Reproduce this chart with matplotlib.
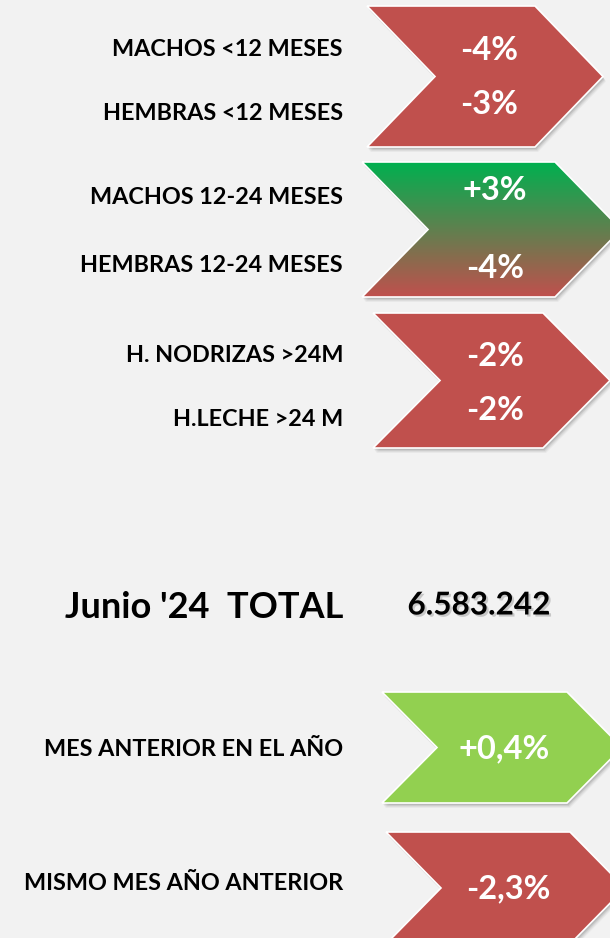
import numpy as np
import matplotlib
matplotlib.use('Agg')
import matplotlib.pyplot as plt
from matplotlib.patches import Polygon
import matplotlib.patheffects as pe

# category labels and their changes
labels = ['MACHOS <12 MESES', 'HEMBRAS <12 MESES',
          'MACHOS 12-24 MESES', 'HEMBRAS 12-24 MESES',
          'H. NODRIZAS >24M', 'H.LECHE >24 M']
changes = ['-4%', '-3%', '+3%', '-4%', '-2%', '-2%']

total_label = "Junio '24  TOTAL"
total_value = '6.583.242'

compare_labels = ['MES ANTERIOR EN EL AÑO', 'MISMO MES AÑO ANTERIOR']
compare_changes = ['+0,4%', '-2,3%']

RED = '#C0504D'
GREEN = '#00B050'
LIGHT_GREEN = '#92D050'
BG = '#F2F2F2'

# layout (pixel coords, y down)
label_x = 343
label_y = [50, 114, 198, 265, 355, 420]
value_xy = [(489, 50), (489, 104), (495, 191), (495, 268), (495, 356), (495, 410)]
# chevrons: left, top, bottom, notch/tip depth, body width (left edge to top-right corner)
chevrons = [
    (367, 6, 147, 68, 168, (RED, RED)),
    (362, 162, 297, 66, 193, (GREEN, RED)),
    (373, 313, 448, 67, 170, (RED, RED)),
]
compare_y = [750, 883]
compare_value_xy = [(504, 749), (508, 889)]
compare_chevrons = [
    (382, 692, 803, 55, 185, (LIGHT_GREEN, LIGHT_GREEN)),
    (386, 832, 944, 55, 184, (RED, RED)),
]


def chevron_pts(left, top, bottom, depth, width):
    mid = (top + bottom) / 2
    return np.array([[left, top], [left + width, top], [left + width + depth, mid],
                     [left + width, bottom], [left, bottom], [left + depth, mid]])


def DrawChevron(ax, spec):
    left, top, bottom, depth, width, (c_top, c_bot) = spec
    pts = chevron_pts(left, top, bottom, depth, width)
    # soft shadow
    for k, a in [(5, 0.05), (4, 0.07), (3, 0.10), (2, 0.13)]:
        ax.add_patch(Polygon(pts + [k * 0.6, k], closed=True, facecolor='#404040',
                             edgecolor='none', alpha=a, zorder=1))
    if c_top == c_bot:
        ax.add_patch(Polygon(pts, closed=True, facecolor=c_top, edgecolor='white',
                             linewidth=1.2, zorder=2))
    else:
        t = matplotlib.colors.to_rgb(c_top)
        b = matplotlib.colors.to_rgb(c_bot)
        f = np.linspace(0, 1, 200)[:, None]
        grad = (1 - f) * np.array(t) + f * np.array(b)
        img = np.repeat(grad[:, None, :], 2, axis=1)
        im = ax.imshow(img, extent=(left, left + width + depth, bottom, top),
                       aspect='auto', zorder=2, interpolation='bilinear')
        clip = Polygon(pts, closed=True, facecolor='none', edgecolor='none')
        ax.add_patch(clip)
        im.set_clip_path(clip)
        ax.add_patch(Polygon(pts, closed=True, facecolor='none', edgecolor='white',
                             linewidth=1.2, zorder=3))


def main():
    plt.rcParams['font.family'] = ['Lato', 'DejaVu Sans']
    fig = plt.figure(figsize=(6.1, 9.38), dpi=100, facecolor=BG)
    ax = fig.add_axes([0, 0, 1, 1])
    ax.set_facecolor(BG)
    ax.set_xlim(0, 610)
    ax.set_ylim(938, 0)
    ax.axis('off')

    for spec in chevrons + compare_chevrons:
        DrawChevron(ax, spec)

    for lab, y in zip(labels, label_y):
        ax.text(label_x, y, lab, ha='right', va='center', fontsize=16.8,
                fontweight='bold', color='black', zorder=5)
    for val, (x, y) in zip(changes, value_xy):
        ax.text(x, y, val, ha='center', va='center', fontsize=23.5,
                fontweight='bold', color='white', zorder=5)

    ax.text(label_x, 607, total_label, ha='right', va='center', fontsize=26,
            fontweight='bold', color='black', zorder=5)
    ax.text(479, 605, total_value, ha='center', va='center', fontsize=22.7,
            fontweight='bold', color='black', zorder=5,
            path_effects=[pe.withSimplePatchShadow(offset=(1.5, -1.5), shadow_rgbFace='#777777',
                                                   alpha=0.35)])

    for lab, y in zip(compare_labels, compare_y):
        ax.text(label_x, y, lab, ha='right', va='center', fontsize=16.8,
                fontweight='bold', color='black', zorder=5)
    for val, (x, y) in zip(compare_changes, compare_value_xy):
        ax.text(x, y, val, ha='center', va='center', fontsize=23.5,
                fontweight='bold', color='white', zorder=5)

    fig.savefig('out.png', dpi=100, facecolor=BG)


if __name__ == '__main__':
    main()
